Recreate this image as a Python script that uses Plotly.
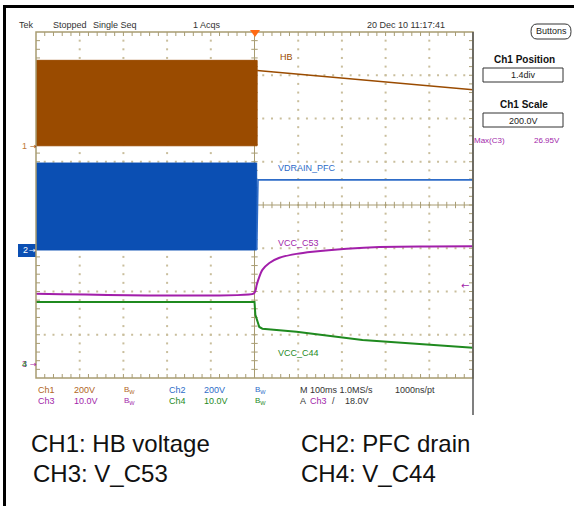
import numpy as np
import plotly.graph_objects as go

# ---------------- data ----------------
# time axis: 100 ms/div, 10 divisions, trigger at centre
t_range = [-500, 500]

# CH1 : HB voltage, 200 V/div, position 1.4 div
ch1_scale, ch1_pos = 200.0, 1.37
hb_burst_t = [-500, 6]          # switching burst (envelope)
hb_burst_hi, hb_burst_lo = 395.0, 0.0
hb_t = [6, 125, 250, 375, 500]
hb_v = [348, 326, 304, 282, 259]

# CH2 : PFC drain, 200 V/div
ch2_scale, ch2_pos = 200.0, -1.04
pfc_burst_t = [-500, 5]
pfc_burst_hi, pfc_burst_lo = 402.0, 0.0
pfc_t = [5, 8, 8, 500]
pfc_v = [0, 300, 324, 324]

# CH3 : V_C53, 10 V/div
ch3_scale, ch3_pos = 10.0, -3.65
c53_t = [-500, -2, 2, 5, 11, 18, 34, 57, 96, 133, 211, 286, 400, 500]
c53_v = [16.0, 16.0, 16.6, 18.0, 19.9, 21.5, 23.1, 24.3, 25.2, 25.7, 26.4, 26.8, 26.9, 26.95]

# CH4 : V_C44, 10 V/div
ch4_scale, ch4_pos = 10.0, -3.65
c44_t = [-500, 0, 2, 7, 11, 18, 96, 247, 400, 500]
c44_v = [14.1, 14.1, 11.1, 9.5, 8.3, 7.9, 7.2, 5.3, 4.2, 3.5]

# ---------------- styling ----------------
BROWN = "#9A4B00"
BLUE = "#0B4FB3"
BLUE_L = "#2E6CC8"
PURPLE = "#A21FAA"
GREEN = "#1F8A1F"
TAN = "#A89C72"
DOT = "#C9BE9C"
FONT = "Liberation Sans, Arial, sans-serif"
SYM = "DejaVu Sans, sans-serif"

L, R, T, B = 36, 473, 32, 378
W, H = 574, 506
PW, PH = R - L, B - T


def px(x):
    return (x - L) / PW


def py(y):
    return (B - y) / PH


def div(v, scale, pos):
    return [pos + vv / scale for vv in v]


fig = go.Figure()

# --- graticule dots ---
minor_x = np.arange(-500, 501, 20)
minor_y = np.arange(-4, 4.01, 0.2)
gx, gy = [], []
for yy in range(-3, 4):
    if yy == 0:
        continue
    for xx in minor_x[1:-1]:
        gx.append(xx); gy.append(yy)
for xx in range(-400, 401, 100):
    if xx == 0:
        continue
    for yy in minor_y[1:-1]:
        gx.append(xx); gy.append(yy)
fig.add_trace(go.Scatter(x=gx, y=gy, mode="markers", hoverinfo="skip",
                         marker=dict(symbol="square", size=2, color=DOT, line_width=0)))

# --- ticks on border and centre lines ---
tx_len = 4 * 1000 / PW      # 4px in ms
ty_len = 4 * 8 / PH         # 4px in div
kx, ky = [], []
for xx in minor_x[1:-1]:
    kx += [xx, xx, None, xx, xx, None, xx, xx, None]
    ky += [4, 4 - ty_len, None, -4, -4 + ty_len, None, -ty_len * 0.8, ty_len * 0.8, None]
for yy in minor_y[1:-1]:
    kx += [-500, -500 + tx_len, None, 500, 500 - tx_len, None, -tx_len * 0.8, tx_len * 0.8, None]
    ky += [yy, yy, None, yy, yy, None, yy, yy, None]
# centre cross
kx += [-500, 500, None, 0, 0, None]
ky += [0, 0, None, -4, 4, None]
fig.add_trace(go.Scatter(x=kx, y=ky, mode="lines", hoverinfo="skip",
                         line=dict(color=TAN, width=1)))

# --- CH1 burst + decay ---
fig.add_trace(go.Scatter(
    x=[hb_burst_t[0], hb_burst_t[1], hb_burst_t[1], hb_burst_t[0]],
    y=div([hb_burst_hi, hb_burst_hi, hb_burst_lo, hb_burst_lo], ch1_scale, ch1_pos),
    fill="toself", fillcolor=BROWN, mode="lines", line=dict(color=BROWN, width=1),
    hoverinfo="skip"))
fig.add_trace(go.Scatter(x=hb_t, y=div(hb_v, ch1_scale, ch1_pos), mode="lines",
                         line=dict(color=BROWN, width=1.6), hoverinfo="skip"))

# --- CH2 burst + level ---
fig.add_trace(go.Scatter(
    x=[pfc_burst_t[0], pfc_burst_t[1], pfc_burst_t[1], pfc_burst_t[0]],
    y=div([pfc_burst_hi, pfc_burst_hi, pfc_burst_lo, pfc_burst_lo], ch2_scale, ch2_pos),
    fill="toself", fillcolor=BLUE, mode="lines", line=dict(color=BLUE, width=1),
    hoverinfo="skip"))
fig.add_trace(go.Scatter(x=pfc_t, y=div(pfc_v, ch2_scale, ch2_pos), mode="lines",
                         line=dict(color=BLUE_L, width=1.6), hoverinfo="skip"))

# --- CH3 / CH4 ---
fig.add_trace(go.Scatter(x=c53_t, y=div(c53_v, ch3_scale, ch3_pos), mode="lines",
                         line=dict(color=PURPLE, width=2, shape="spline", smoothing=0.6),
                         hoverinfo="skip"))
fig.add_trace(go.Scatter(x=c44_t, y=div(c44_v, ch4_scale, ch4_pos), mode="lines",
                         line=dict(color=GREEN, width=2), hoverinfo="skip"))

anns = []


def ann(text, x, y, color="#333333", size=9, xanchor="left", bold=False, font=FONT):
    if bold:
        text = "<b>" + text + "</b>"
    anns.append(dict(text=text, x=px(x), y=py(y), xref="paper", yref="paper",
                     xanchor=xanchor, yanchor="middle", showarrow=False,
                     font=dict(family=font, size=size, color=color)))


# header
ann("Tek", 17, 25)
ann("Stopped", 51, 25)
ann("Single Seq", 91, 25)
ann("1 Acqs", 191, 25)
ann("20 Dec 10 11:17:41", 365, 25)

# trace labels
ann("HB", 278, 57, BROWN)
ann("VDRAIN_PFC", 276, 168, BLUE_L)
ann("VCC_C53", 276, 243, PURPLE)
ann("VCC_C44", 276, 353, GREEN)

# left channel markers
ann("1", 29, 146, "#C07A3A", xanchor="right")
ann("→", 28, 146, BROWN, size=8, font=SYM)
ann("2", 21, 250, "white")
ann("→", 27, 250, "white", size=8, font=SYM)
ann("3", 29, 364, PURPLE, xanchor="right")
ann("4", 29, 364, GREEN, xanchor="right")
ann("→", 28, 364, PURPLE, size=8, font=SYM)
ann("←", 459, 285, PURPLE, size=10, font=SYM)

# right panel
ann("Buttons", 551, 31, "#222222", size=9, xanchor="center")
ann("Ch1 Position", 524, 59, "#111111", size=10, xanchor="center", bold=True)
ann("1.4div", 523, 75, "#222222", size=9, xanchor="center")
ann("Ch1 Scale", 524, 104, "#111111", size=10, xanchor="center", bold=True)
ann("200.0V", 523, 121, "#222222", size=9, xanchor="center")
ann("Max(C3)", 472, 140, PURPLE, size=8)
ann("26.95V", 532, 140, PURPLE, size=8)

# readouts
r1, r2 = 390, 401
ann("Ch1", 36, r1, "#B0651E"); ann("200V", 72, r1, "#B0651E")
ann("B<sub>W</sub>", 122, r1, "#B0651E", size=8)
ann("Ch2", 167, r1, BLUE_L); ann("200V", 202, r1, BLUE_L)
ann("B<sub>W</sub>", 253, r1, BLUE_L, size=8)
ann("M 100ms 1.0MS/s", 298, r1, "#333333")
ann("1000ns/pt", 393, r1, "#333333")
ann("Ch3", 36, r2, PURPLE); ann("10.0V", 72, r2, PURPLE)
ann("B<sub>W</sub>", 122, r2, PURPLE, size=8)
ann("Ch4", 167, r2, GREEN); ann("10.0V", 202, r2, GREEN)
ann("B<sub>W</sub>", 253, r2, GREEN, size=8)
ann("A", 298, r2, "#333333")
ann("Ch3", 308, r2, PURPLE)
ann("/", 330, r2, "#333333")
ann("18.0V", 343, r2, "#333333")

# captions
ann("CH1: HB voltage", 29, 443, "#111111", size=24, font="Liberation Sans, Arial")
ann("CH2: PFC drain", 299, 443, "#111111", size=24, font="Liberation Sans, Arial")
ann("CH3: V_C53", 31, 473, "#111111", size=24, font="Liberation Sans, Arial")
ann("CH4: V_C44", 299, 473, "#111111", size=24, font="Liberation Sans, Arial")

shapes = []


def rect(x0, y0, x1, y1, line="#333333", fill=None, width=1, layer="above"):
    shapes.append(dict(type="rect", xref="paper", yref="paper",
                       x0=px(x0), x1=px(x1), y0=py(y0), y1=py(y1),
                       line=dict(color=line, width=width),
                       fillcolor=fill if fill else "rgba(0,0,0,0)", layer=layer))


def seg(x0, y0, x1, y1, color, width=1):
    shapes.append(dict(type="line", xref="paper", yref="paper",
                       x0=px(x0), x1=px(x1), y0=py(y0), y1=py(y1),
                       line=dict(color=color, width=width), layer="above"))


# outer black frame (left + top)
seg(4.5, 6.5, 4.5, 506, "black", 3)
seg(3, 6.5, 574, 6.5, "black", 3)
# graticule border
rect(L, T, R, B, TAN, None, 1.5)
seg(R, T, R, 415, "#555555", 1.5)
# channel 2 marker box
shapes.append(dict(type="rect", xref="paper", yref="paper", x0=px(18), x1=px(36),
                   y0=py(257), y1=py(244), line=dict(width=0), fillcolor=BLUE, layer="below"))
# right panel boxes
rect(483, 68, 563, 82, "#333333")
rect(483, 113, 563, 127, "#333333")
# Buttons pill
bx0, bx1, by0, by1 = 531, 571, 24, 39
path = (f"M {px(bx0+6)},{py(by0)} L {px(bx1-6)},{py(by0)} "
        f"Q {px(bx1)},{py(by0)} {px(bx1)},{py((by0+by1)/2)} "
        f"Q {px(bx1)},{py(by1)} {px(bx1-6)},{py(by1)} "
        f"L {px(bx0+6)},{py(by1)} "
        f"Q {px(bx0)},{py(by1)} {px(bx0)},{py((by0+by1)/2)} "
        f"Q {px(bx0)},{py(by0)} {px(bx0+6)},{py(by0)} Z")
shapes.append(dict(type="path", xref="paper", yref="paper", path=path,
                   line=dict(color="#333333", width=1), layer="above"))
# trigger position marker
tri = f"M {px(250)},{py(30)} L {px(260)},{py(30)} L {px(255)},{py(37)} Z"
shapes.append(dict(type="path", xref="paper", yref="paper", path=tri,
                   line=dict(color="#FF6A13", width=0), fillcolor="#FF6A13", layer="above"))

fig.update_layout(
    width=W, height=H, autosize=False,
    margin=dict(l=L, r=W - R, t=T, b=H - B, pad=0),
    paper_bgcolor="white", plot_bgcolor="white",
    showlegend=False,
    xaxis=dict(range=t_range, visible=False, fixedrange=True),
    yaxis=dict(range=[-4, 4], visible=False, fixedrange=True),
    annotations=anns, shapes=shapes,
)

fig.write_html("out.html", config={"displayModeBar": False},
               post_script="document.body.style.margin='0';document.body.style.padding='0';")
